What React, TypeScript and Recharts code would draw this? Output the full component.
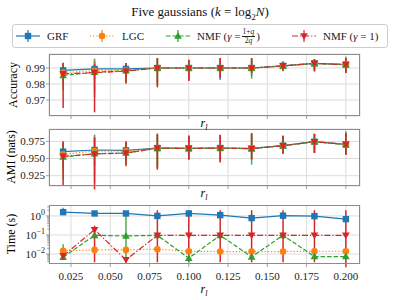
import React from 'react';
import { LineChart, Line, XAxis, YAxis, CartesianGrid, ErrorBar, ReferenceLine } from 'recharts';

const FONT = '"Liberation Serif", "DejaVu Serif", serif';

const rl = [0.02, 0.04, 0.06, 0.08, 0.1, 0.12, 0.14, 0.16, 0.18, 0.2];
const xTicks = [0.025, 0.05, 0.075, 0.1, 0.125, 0.15, 0.175, 0.2];

// Accuracy
const accGRF = [0.9885, 0.9894, 0.9894, 0.99, 0.99, 0.99, 0.99, 0.9913, 0.9929, 0.9921];
const accGRFLo = [0.984, 0.983, 0.985, 0.981, 0.983, 0.9825, 0.985, 0.989, 0.989, 0.988];
const accGRFHi = [0.993, 0.9958, 0.993, 0.996, 0.995, 0.996, 0.995, 0.994, 0.9955, 0.996];
const accLGC = [0.9871, 0.9883, 0.9885, 0.99, 0.99, 0.99, 0.99, 0.9913, 0.9929, 0.9921];
const accLGCLo = [0.98, 0.975, 0.981, 0.979, 0.982, 0.984, 0.986, 0.9885, 0.988, 0.987];
const accLGCHi = [0.9935, 0.995, 0.993, 0.996, 0.995, 0.996, 0.996, 0.994, 0.9955, 0.996];
const accNMFq = [0.9854, 0.9873, 0.9883, 0.99, 0.99, 0.99, 0.99, 0.9913, 0.9929, 0.9921];
const accNMFqLo = [0.976, 0.972, 0.981, 0.979, 0.982, 0.984, 0.9833, 0.988, 0.988, 0.987];
const accNMFqHi = [0.992, 0.994, 0.993, 0.996, 0.995, 0.996, 0.996, 0.994, 0.9955, 0.997];
const accNMF1 = [0.9863, 0.9871, 0.988, 0.99, 0.99, 0.99, 0.99, 0.9913, 0.9929, 0.9921];
const accNMF1Lo = [0.965, 0.9623, 0.9802, 0.9779, 0.9821, 0.9838, 0.9869, 0.9883, 0.9879, 0.9869];
const accNMF1Hi = [0.9931, 0.9925, 0.9931, 0.9962, 0.9952, 0.9962, 0.9962, 0.9938, 0.9956, 0.9962];

// AMI (nats)
const amiGRF = [0.96, 0.9624, 0.9619, 0.9653, 0.9648, 0.9653, 0.9648, 0.9687, 0.9745, 0.9706];
const amiGRFLo = [0.945, 0.94, 0.945, 0.94, 0.95, 0.948, 0.95, 0.958, 0.96, 0.958];
const amiGRFHi = [0.972, 0.9847, 0.974, 0.985, 0.983, 0.984, 0.986, 0.982, 0.9855, 0.986];
const amiLGC = [0.956, 0.961, 0.9605, 0.9653, 0.9648, 0.9653, 0.9648, 0.9687, 0.9745, 0.9706];
const amiLGCLo = [0.93, 0.925, 0.9385, 0.935, 0.949, 0.946, 0.949, 0.957, 0.958, 0.956];
const amiLGCHi = [0.974, 0.982, 0.974, 0.986, 0.983, 0.984, 0.987, 0.983, 0.986, 0.987];
const amiNMFq = [0.9522, 0.957, 0.958, 0.9648, 0.9648, 0.965, 0.9643, 0.9687, 0.9745, 0.9701];
const amiNMFqLo = [0.92, 0.915, 0.942, 0.936, 0.949, 0.946, 0.941, 0.957, 0.958, 0.956];
const amiNMFqHi = [0.973, 0.98, 0.974, 0.985, 0.983, 0.984, 0.986, 0.983, 0.986, 0.9896];
const amiNMF1 = [0.9532, 0.9566, 0.958, 0.9653, 0.9648, 0.9653, 0.9643, 0.9687, 0.9745, 0.9706];
const amiNMF1Lo = [0.9104, 0.905, 0.9396, 0.9337, 0.9483, 0.9444, 0.9483, 0.957, 0.958, 0.955];
const amiNMF1Hi = [0.975, 0.981, 0.975, 0.9862, 0.9833, 0.9847, 0.9871, 0.9833, 0.986, 0.987];

// Time (s)
const timeGRF = [1.58, 1.35, 1.35, 1.0, 1.35, 1.1, 0.77, 1.03, 0.98, 0.68];
const timeGRFLo = [1.2, 1.1, 1.1, 0.8, 1.1, 0.9, 0.6, 0.85, 0.8, 0.5];
const timeGRFHi = [2.7, 1.7, 1.7, 1.3, 1.7, 1.4, 1.0, 1.3, 1.25, 0.9];
const timeLGC = [0.0146, 0.0165, 0.0165, 0.018, 0.014, 0.0135, 0.0135, 0.0135, 0.014, 0.014];
const timeLGCLo = [0.0135, 0.0155, 0.0155, 0.0165, 0.013, 0.0125, 0.0125, 0.0125, 0.013, 0.013];
const timeLGCHi = [0.0158, 0.0175, 0.0175, 0.0195, 0.015, 0.0145, 0.0145, 0.0145, 0.015, 0.015];
const timeNMFq = [0.0068, 0.096, 0.089, 0.096, 0.0061, 0.096, 0.0071, 0.096, 0.0074, 0.0074];
const timeNMFqLo = [0.005, 0.08, 0.0037, 0.08, 0.0052, 0.08, 0.006, 0.08, 0.0063, 0.0063];
const timeNMFqHi = [0.033, 0.11, 1.3, 0.11, 0.0072, 0.11, 0.0084, 0.11, 0.0087, 0.0087];
const timeNMF1 = [0.008, 0.19, 0.005, 0.096, 0.096, 0.096, 0.096, 0.096, 0.096, 0.096];
const timeNMF1Lo = [0.0068, 0.0037, 0.0043, 0.0037, 0.0037, 0.0037, 0.0037, 0.0037, 0.0037, 0.002];
const timeNMF1Hi = [0.0095, 0.31, 0.006, 2.0, 2.0, 2.0, 2.0, 2.0, 2.0, 2.0];

const timeMajor = [1, 0.1, 0.01];
const timeMinor = [0.004, 0.005, 0.006, 0.007, 0.008, 0.009, 0.02, 0.03, 0.04, 0.05, 0.06, 0.07, 0.08, 0.09,
  0.2, 0.3, 0.4, 0.5, 0.6, 0.7, 0.8, 0.9, 2, 3];

const series = [
  { key: 'grf', name: 'GRF', color: '#1f77b4', dash: undefined, shape: 'square', errOp: 0.85 },
  { key: 'lgc', name: 'LGC', color: '#ff7f0e', dash: '1.2 2', shape: 'circle', errOp: 0.85 },
  { key: 'nmfq', name: 'NMFq', color: '#2ca02c', dash: '4.5 2', shape: 'up', errOp: 0.85 },
  { key: 'nmf1', name: 'NMF1', color: '#d62728', dash: '6 2 1.2 2', shape: 'down', errOp: 1 },
];

function buildRows(vals: number[][], los: number[][], his: number[][]) {
  return rl.map((x, i) => {
    const row: any = { x };
    series.forEach((s, k) => {
      row[s.key] = vals[k][i];
      row[s.key + 'Err'] = [vals[k][i] - los[k][i], his[k][i] - vals[k][i]];
    });
    return row;
  });
}

const accData = buildRows([accGRF, accLGC, accNMFq, accNMF1], [accGRFLo, accLGCLo, accNMFqLo, accNMF1Lo], [accGRFHi, accLGCHi, accNMFqHi, accNMF1Hi]);
const amiData = buildRows([amiGRF, amiLGC, amiNMFq, amiNMF1], [amiGRFLo, amiLGCLo, amiNMFqLo, amiNMF1Lo], [amiGRFHi, amiLGCHi, amiNMFqHi, amiNMF1Hi]);
const timeData = buildRows([timeGRF, timeLGC, timeNMFq, timeNMF1], [timeGRFLo, timeLGCLo, timeNMFqLo, timeNMF1Lo], [timeGRFHi, timeLGCHi, timeNMFqHi, timeNMF1Hi]);

function Marker({ cx, cy, shape, color }: any) {
  if (cx == null || cy == null) return null;
  if (shape === 'square') return <rect x={cx - 3.2} y={cy - 3.2} width={6.4} height={6.4} fill={color} />;
  if (shape === 'circle') return <circle cx={cx} cy={cy} r={3.3} fill={color} />;
  if (shape === 'up') return <polygon points={`${cx},${cy - 4} ${cx - 3.8},${cy + 2.8} ${cx + 3.8},${cy + 2.8}`} fill={color} />;
  return <polygon points={`${cx},${cy + 4} ${cx - 3.8},${cy - 2.8} ${cx + 3.8},${cy - 2.8}`} fill={color} />;
}

const XTick = ({ x, y, payload, labels }: any) => (
  <g>
    <line x1={x} x2={x} y1={y} y2={y + 3} stroke="#888" strokeWidth={0.8} />
    {labels && (
      <text x={x} y={y + 15.5} textAnchor="middle" fontSize={11} fontFamily={FONT} fill="#222">
        {payload.value.toFixed(3)}
      </text>
    )}
  </g>
);

const YTick = ({ x, y, payload, fmt, log }: any) => {
  const v = payload.value;
  const major = !log || timeMajor.includes(v);
  return (
    <g>
      <line x1={x - (major ? 3 : 1.8)} x2={x} y1={y} y2={y} stroke="#888" strokeWidth={0.8} />
      {major && !log && (
        <text x={x - 4} y={y + 3.8} textAnchor="end" fontSize={11} fontFamily={FONT} fill="#222">{fmt(v)}</text>
      )}
      {major && log && (
        <text x={x - 4} y={y + 3.8} textAnchor="end" fontSize={11} fontFamily={FONT} fill="#222">
          10<tspan dy={-4.5} fontSize={8}>{v === 1 ? '0' : v === 0.1 ? '\u22121' : '\u22122'}</tspan>
        </text>
      )}
    </g>
  );
};

function Panel({ top, height, mTop, xh, data, domain, yTicks, log, fmt, labels, grid }: any) {
  return (
    <div style={{ position: 'absolute', left: 0, top, width: 400, height }}>
      <LineChart width={400} height={height} data={data} margin={{ top: mTop, right: 40, bottom: 0, left: 0 }}>
        <CartesianGrid stroke="#dcdcdc" strokeWidth={1} horizontal={!log} vertical={true} />
        <XAxis
          dataKey="x"
          type="number"
          domain={[0.011, 0.209]}
          ticks={xTicks}
          interval={0}
          allowDataOverflow
          height={xh}
          axisLine={false}
          tickLine={false}
          tickSize={0}
          tickMargin={0}
          tick={<XTick labels={labels} />}
        />
        <YAxis
          type="number"
          scale={log ? 'log' : 'auto'}
          domain={domain}
          ticks={yTicks}
          interval={0}
          allowDataOverflow
          width={49}
          axisLine={false}
          tickLine={false}
          tickSize={0}
          tickMargin={0}
          tick={<YTick fmt={fmt} log={log} />}
        />
        {grid && grid.map((g: number) => <ReferenceLine key={g} y={g} stroke="#dcdcdc" strokeWidth={1} />)}
        {series.map((s) => (
          <Line
            key={s.key}
            type="linear"
            dataKey={s.key}
            stroke={s.color}
            strokeWidth={1.2}
            strokeDasharray={s.dash}
            isAnimationActive={false}
            activeDot={false}
            dot={(p: any) => <Marker key={s.key + p.index} cx={p.cx} cy={p.cy} shape={s.shape} color={s.color} />}
          >
            <ErrorBar dataKey={s.key + 'Err'} direction="y" width={0} stroke={s.color} strokeWidth={1.5} strokeOpacity={s.errOp} />
          </Line>
        ))}
      </LineChart>
    </div>
  );
}

const Frame = ({ top, height }: any) => (
  <div style={{ position: 'absolute', left: 49, top, width: 311, height, border: '1px solid #8c8c8c', boxSizing: 'border-box', pointerEvents: 'none' }} />
);

const XLabel = ({ top }: any) => (
  <div style={{ position: 'absolute', left: 194, top, width: 20, textAlign: 'center', fontSize: 12, fontFamily: FONT, fontStyle: 'italic', lineHeight: '12px' }}>
    r<span style={{ fontSize: 8, position: 'relative', top: 3 }}>l</span>
  </div>
);

const YLabel = ({ cx, cy, text }: any) => (
  <div style={{ position: 'absolute', left: cx - 40, top: cy - 7, width: 80, textAlign: 'center', fontSize: 12, fontFamily: FONT, lineHeight: '14px', transform: 'rotate(-90deg)', whiteSpace: 'nowrap' }}>
    {text}
  </div>
);

function Handle({ s }: any) {
  return (
    <svg width={24} height={14} style={{ position: 'absolute', left: 0, top: 0 }}>
      <line x1={0} x2={24} y1={7} y2={7} stroke={s.color} strokeWidth={1.2} strokeDasharray={s.dash} />
      <line x1={12} x2={12} y1={1} y2={13} stroke={s.color} strokeWidth={1.5} strokeOpacity={0.8} />
      <Marker cx={12} cy={7} shape={s.shape} color={s.color} />
    </svg>
  );
}

function Legend() {
  const items: any[] = [
    { s: series[0], hx: 16, tx: 47, label: <span>GRF</span> },
    { s: series[1], hx: 90, tx: 122, label: <span>LGC</span> },
    {
      s: series[2], hx: 166, tx: 197, label: (
        <span>
          NMF (<i>γ</i> =
          <span style={{ display: 'inline-block', verticalAlign: 'middle', textAlign: 'center', fontSize: 7.5, lineHeight: '8px', margin: '0 1px', position: 'relative', top: -1 }}>
            <span style={{ display: 'block', borderBottom: '0.7px solid #222', padding: '0 1px' }}>1+<i>q</i></span>
            <span style={{ display: 'block' }}>2<i>q</i></span>
          </span>)
        </span>
      ),
    },
    { s: series[3], hx: 292, tx: 323, label: <span>NMF (<i>γ</i> = 1)</span> },
  ];
  return (
    <div style={{ position: 'absolute', left: 12, top: 24, width: 376, height: 24, border: '1px solid #cccccc', borderRadius: 3, boxSizing: 'border-box', background: '#fff' }}>
      {items.map((it, i) => (
        <React.Fragment key={i}>
          <div style={{ position: 'absolute', left: it.hx - 13, top: 4, width: 24, height: 14 }}>
            <Handle s={it.s} />
          </div>
          <div style={{ position: 'absolute', left: it.tx - 13, top: 4, fontSize: 11, fontFamily: FONT, lineHeight: '14px', whiteSpace: 'nowrap', color: '#222' }}>
            {it.label}
          </div>
        </React.Fragment>
      ))}
    </div>
  );
}

export default function App() {
  return (
    <div style={{ position: 'absolute', left: 0, top: 0, width: 400, height: 300, background: '#fff', fontFamily: FONT, overflow: 'hidden' }}>
      <div style={{ position: 'absolute', left: 0, top: 4, width: 400, textAlign: 'center', fontSize: 13, lineHeight: '16px', color: '#111' }}>
        Five gaussians (<i>k</i> = log<sub style={{ fontSize: 9, lineHeight: 0 }}>2</sub><i>N</i>)
      </div>
      <Legend />
      <Panel top={0} height={130} mTop={54} xh={14} data={accData} domain={[0.96, 0.99875]} yTicks={[0.97, 0.98, 0.99]} fmt={(v: number) => v.toFixed(2)} labels={false} />
      <Panel top={120} height={80} mTop={9} xh={14} data={amiData} domain={[0.91, 0.993]} yTicks={[0.925, 0.95, 0.975]} fmt={(v: number) => v.toFixed(3)} labels={false} />
      <Panel top={195} height={105} mTop={10} xh={36} data={timeData} domain={[0.003, 3.75]} yTicks={[...timeMajor, ...timeMinor]} log fmt={(v: number) => String(v)} labels grid={timeMajor} />
      <Frame top={54} height={62} />
      <Frame top={129} height={57} />
      <Frame top={205} height={59} />
      <XLabel top={117} />
      <XLabel top={187} />
      <XLabel top={283} />
      <YLabel cx={13} cy={85} text="Accuracy" />
      <YLabel cx={11} cy={157} text="AMI (nats)" />
      <YLabel cx={11} cy={234} text="Time (s)" />
    </div>
  );
}
